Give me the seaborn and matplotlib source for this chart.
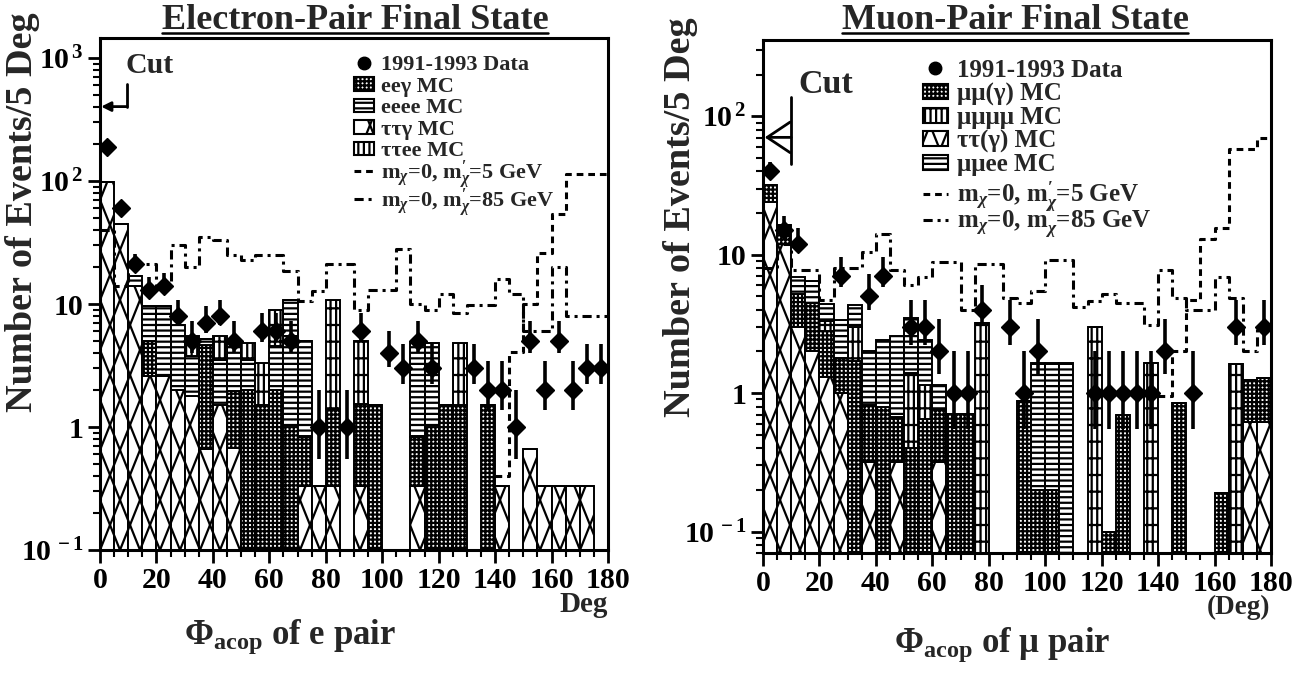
import numpy as np
import pandas as pd
import matplotlib
matplotlib.use("Agg")
import matplotlib.pyplot as plt
import matplotlib.hatch as mhatch
from matplotlib.path import Path
from matplotlib.patches import Patch, ArrowStyle
from matplotlib.lines import Line2D
from matplotlib.colors import to_hex
from matplotlib.ticker import LogLocator, NullFormatter, FixedLocator
import seaborn as sns

nan = np.nan

# ---------------- binning ----------------
bin_edges = np.arange(0, 185, 5)
bin_centers = bin_edges[:-1] + 2.5

# ---------------- electron-pair channel ----------------
e_mc_names = ["ττγ MC", "eeγ MC", "eeee MC", "ττee MC"]          # stacked bottom -> top
e_tautau_gamma = [98, 45, 14, 2.6, 2.6, 2.0, 1.8, 0.66, 1.5, 0.68, 0, 0, 0, 0, 0.33, 0.33, 0.33, 0,
                  0.33, 0, 0, 0, 0.33, 0, 0, 0, 0, 0, 0.33, 0, 0.66, 0.33, 0.33, 0.33, 0.33, 0]
e_ee_gamma = [0, 0, 0, 2.4, 0, 0, 0, 4.0, 0, 1.3, 2.0, 1.5, 2.0, 1.0, 0.5, 0, 1.07, 0,
              1.2, 1.5, 0, 0, 0.5, 1.0, 1.5, 1.5, 0, 1.5, 0, 0, 0, 0, 0, 0, 0, 0]
e_eeee = [0, 0, 3.0, 4.6, 7.0, 4.7, 2.0, 0.5, 2.0, 2.5, 1.5, 0, 2.6, 9.8, 4.2, 0, 0, 0,
          0, 0, 0, 0, 4.0, 3.8, 0, 0, 0, 0, 0, 0, 0, 0, 0, 0, 0, 0]
e_tautau_ee = [0, 0, 0, 0, 0, 0, 1.7, 0, 2.0, 0.5, 1.3, 1.8, 4.3, 0, 0, 0, 9.4, 0,
               3.5, 0, 0, 0, 0, 0, 0, 3.3, 0, 0, 0, 0, 0, 0, 0, 0, 0, 0]
e_data = [190, 61, 21, 13, 14, 8, 5, 7, 8, 5, nan, 6, 6, 5, nan, 1, nan, 1,
          6, nan, 4, 3, 5, 3, nan, nan, 3, 2, 2, 1, 5, 2, 5, 2, 3, 3]
e_sig_5 = [nan] * 28 + [0.4, 4.1, 10, 26, 54, 115, 115, 115]
e_sig_85 = [40, 14, 21, 21, 14, 30, 20, 35, 33, 25, 23, 25, 25, 18.5, 10.6, 12.7, 21, 21,
            9, 13, 13, 28, 10, 9, 12, 8.4, 9.8, 9.8, 16, 12, 6, 6, 20, 8, 8, 8]

# ---------------- muon-pair channel ----------------
m_mc_names = ["ττ(γ) MC", "μμ(γ) MC", "μμμμ MC", "μμee MC"]        # stacked bottom -> top
m_tautau = [24, 12, 3.0, 2.0, 1.3, 1.0, 0, 0.32, 0, 0.32, 0, 0, 0.32, 0, 0, 0, 0, 0,
            0, 0, 0, 0, 0, 0, 0, 0, 0, 0, 0, 0, 0, 0, 0, 0, 0.62, 0.62]
m_mumu_gamma = [8, 4.5, 2.2, 2.5, 1.5, 0.8, 1.7, 0.5, 0.8, 0.35, 0.4, 0.65, 0.45, 0.71, 0.71, 0, 0, 0,
                0.87, 0.2, 0.2, 0, 0, 0, 0.10, 0.69, 0, 0, 0, 0.85, 0, 0, 0.19, 0, 0.63, 0.66]
m_4mu = [0, 0, 0, 0, 0.5, 0, 1.3, 0, 0, 0, 1.0, 0.5, 0, 0, 0, 3.2, 0, 0,
         0, 0, 0, 0, 0, 3.0, 0, 0, 0, 1.65, 0, 0, 0, 0, 0, 1.63, 0, 0]
m_mumuee = [0, 0, 1.7, 2.0, 1.1, 1.6, 1.3, 1.2, 1.6, 1.9, 2.1, 1.25, 0.38, 0, 0, 0, 0, 0,
            0, 1.45, 1.45, 1.65, 0, 0, 0, 0, 0, 0, 0, 0, 0, 0, 0, 0, 0, 0]
m_data = [40, 15, 12, nan, nan, 7, nan, 5, 7, nan, 3, 3, 2, 1, 1, 4, nan, 3,
          1, 2, nan, nan, nan, 1, 1, 1, 1, 1, 2, nan, 1, nan, nan, 3, nan, 3]
m_sig_5 = [nan] * 28 + [0.95, 2.0, 4.7, 13, 15.5, 58, 58, 69]
m_sig_85 = [8, 12, 7.8, 7.8, 4.7, 8, 8, 10.5, 14, 7.8, 6, 6.9, 8.9, 8.9, 4.0, 8.6, 8.6, 4.9,
            4.5, 5.5, 9.2, 9.2, 4.2, 4.6, 5.2, 4.5, 4.5, 3.1, 7.8, 4.9, 4.0, 4.0, 6.9, 4.9, 2.0, 3.1]

sig_labels = [r"m$_{\chi}$=0, m$_{\chi}^{\prime}$=5 GeV", r"m$_{\chi}$=0, m$_{\chi}^{\prime}$=85 GeV"]


# ---------------- a tall diamond lattice for the 'X' hatch letter ----------------
class TallDiamondHatch(mhatch.HatchPatternBase):
    def __init__(self, hatch, density):
        self.num_lines = hatch.count("X") * 5
        self.num_vertices = 4 * (self.num_lines + 3) if self.num_lines else 0

    def set_vertices_and_codes(self, vertices, codes):
        n = self.num_lines
        shift = 2.0 / n
        up = np.arange(-2, n + 1) / n
        down = np.arange(0, n + 3) / n
        k = 2 * len(up)
        vertices[0:k:2, 0] = up
        vertices[0:k:2, 1] = 0.0
        vertices[1:k:2, 0] = up + shift
        vertices[1:k:2, 1] = 1.0
        vertices[k::2, 0] = down
        vertices[k::2, 1] = 0.0
        vertices[k + 1::2, 0] = down - shift
        vertices[k + 1::2, 1] = 1.0
        codes[0::2] = Path.MOVETO
        codes[1::2] = Path.LINETO


class _NorthEast(mhatch.NorthEastHatch):
    def __init__(self, hatch, density):
        super().__init__(hatch.replace("X", ""), density)


class _SouthEast(mhatch.SouthEastHatch):
    def __init__(self, hatch, density):
        super().__init__(hatch.replace("X", ""), density)


mhatch._hatch_types = [
    _NorthEast if t is mhatch.NorthEastHatch else _SouthEast if t is mhatch.SouthEastHatch else t
    for t in mhatch._hatch_types
] + [TallDiamondHatch]

# ---------------- style ----------------
sns.set_style("ticks")
plt.rcParams.update({
    "font.family": ["Liberation Serif", "DejaVu Serif"],
    "font.weight": "bold",
    "axes.labelweight": "bold",
    "mathtext.fontset": "custom",
    "mathtext.rm": "Liberation Serif:bold",
    "mathtext.it": "Liberation Serif:italic:bold",
    "mathtext.bf": "Liberation Serif:bold",
    "hatch.linewidth": 1.6,
    "axes.linewidth": 2.2,
    "axes.edgecolor": "black",
    "xtick.color": "black",
    "ytick.color": "black",
})

HATCHES = ["X", "++++", "---", "|||-"]        # ττ-type, radiative, 4-lepton, mixed
M_HATCHES = ["X", "++++", "|||-", "---"]
KEY_COLORS = ["#ff0000", "#00aa00", "#0000ff", "#aa00aa"]
DASH_LIGHT = (0, (2.2, 1.6))
DASH_HEAVY = (0, (3.0, 1.6, 1.0, 1.6))


def draw_panel(ax, names, values, hatches, counts, light, heavy, ylim, yticks, yticklabels):
    frame = pd.DataFrame({
        "phi": np.tile(bin_centers, len(names)),
        "events": np.concatenate([np.asarray(v, float) for v in values]),
        "sample": np.repeat(names, len(bin_centers)),
    })
    pal = dict(zip(names, KEY_COLORS))
    sns.histplot(data=frame, x="phi", weights="events", hue="sample",
                 hue_order=names[::-1], palette=pal, multiple="stack",
                 bins=[float(b) for b in bin_edges], element="bars", alpha=1, legend=False,
                 edgecolor="black", linewidth=1.4, ax=ax)
    key_to_hatch = {to_hex(c): h for c, h in zip(KEY_COLORS, hatches)}
    for p in ax.patches:
        h = key_to_hatch.get(to_hex(p.get_facecolor(), keep_alpha=False))
        if h is not None:
            p.set_facecolor("white")
            p.set_edgecolor("black")
            p.set_hatch(h)
            p.set_alpha(1)
            p.set_linewidth(1.4)

    # data with statistical error bars
    c = np.asarray(counts, float)
    ok = ~np.isnan(c)
    n = c[ok]
    ax.errorbar(bin_centers[ok], n, yerr=np.vstack([0.45 * np.sqrt(n), np.sqrt(n)]),
                fmt="D", color="black", ms=9, elinewidth=2.6, capsize=0, zorder=6)

    # signal expectations
    for vals, ls in ((light, DASH_LIGHT), (heavy, DASH_HEAVY)):
        v = np.asarray(vals, float)
        ax.plot(bin_edges, np.append(v, v[-1]), drawstyle="steps-post", ls=ls,
                color="black", lw=2.2, zorder=5)

    ax.set_yscale("log")
    ax.set_xlim(0, 180)
    ax.set_ylim(*ylim)
    ax.set_xticks(np.arange(0, 181, 20))
    ax.set_xticks(np.arange(0, 181, 5), minor=True)
    ax.yaxis.set_major_locator(FixedLocator(yticks))
    ax.set_yticklabels(yticklabels)
    ax.yaxis.set_minor_locator(LogLocator(subs=np.arange(2, 10)))
    ax.yaxis.set_minor_formatter(NullFormatter())
    ax.tick_params(which="major", direction="out", length=9, width=2, labelsize=21.5, pad=3)
    ax.tick_params(which="minor", direction="out", length=5, width=1.5)
    for lab in ax.get_xticklabels() + ax.get_yticklabels():
        lab.set_fontweight("bold")
    for s in ax.spines.values():
        s.set_visible(True)
        s.set_linewidth(2.2)
    ax.set_xlabel("")
    ax.set_ylabel("Number of Events/5 Deg", fontsize=27.5, fontweight="bold")


def sample_handles(hatches_in_order):
    h = [Line2D([], [], marker="o", ls="none", color="black", ms=9)]
    h += [Patch(facecolor="white", edgecolor="black", hatch=hh, lw=1.5) for hh in hatches_in_order]
    return h


def signal_handles():
    return [Line2D([], [], ls=DASH_LIGHT, color="black", lw=2.2),
            Line2D([], [], ls=DASH_HEAVY, color="black", lw=2.2)]


def two_part_legend(ax, hatches_in_order, labels, x0, y_top, y_sig, size, hlen, pad, space, sig_space):
    common = dict(loc="upper left", frameon=False, borderpad=0, handlelength=hlen,
                  handleheight=0.55, handletextpad=pad, prop={"size": size, "weight": "bold"})
    leg1 = ax.legend(sample_handles(hatches_in_order), labels, bbox_to_anchor=(x0, y_top),
                     labelspacing=space, **common)
    ax.add_artist(leg1)
    ax.legend(signal_handles(), sig_labels, bbox_to_anchor=(x0, y_sig),
              labelspacing=sig_space, **common)


fig = plt.figure(figsize=(13.03, 6.75), dpi=100)
ax_e = fig.add_axes([100 / 1303, 1 - 550 / 675, 508 / 1303, 512 / 675])
ax_m = fig.add_axes([763 / 1303, 1 - 553 / 675, 508 / 1303, 513 / 675])

draw_panel(ax_e, e_mc_names, [e_tautau_gamma, e_ee_gamma, e_eeee, e_tautau_ee], HATCHES,
           e_data, e_sig_5, e_sig_85, (0.1, 1460), [0.1, 1, 10, 100, 1000],
           [r"10$^{\,-1}$", "1", "10", r"10$^{\,2}$", r"10$^{\,3}$"])
draw_panel(ax_m, m_mc_names, [m_tautau, m_mumu_gamma, m_4mu, m_mumuee], M_HATCHES,
           m_data, m_sig_5, m_sig_85, (0.07, 355), [0.1, 1, 10, 100],
           [r"10$^{\,-1}$", "1", "10", r"10$^{\,2}$"])

ax_e.yaxis.set_label_coords(-0.118, 0.66)
ax_m.yaxis.set_label_coords(-0.128, 0.655)

# legends
two_part_legend(ax_e, [HATCHES[1], HATCHES[2], HATCHES[0], HATCHES[3]],
                ["1991-1993 Data", "eeγ MC", "eeee MC", "ττγ MC", "ττee MC"],
                0.478, 0.988, 0.787, 16, 0.9, 0.3, 0.07, -0.22)
two_part_legend(ax_m, [M_HATCHES[1], M_HATCHES[2], M_HATCHES[0], M_HATCHES[3]],
                ["1991-1993 Data", "μμ(γ) MC", "μμμμ MC", "ττ(γ) MC", "μμee MC"],
                0.29, 0.988, 0.7526, 18, 1.0, 0.35, 0.02, -0.36)

# acoplanarity cut markers
ax_e.plot([9.6, 9.6], [612, 404], color="black", lw=2, zorder=7)
ax_e.annotate("", xy=(0.4, 404), xytext=(9.6, 404),
              arrowprops=dict(arrowstyle="-|>", color="black", lw=2, mutation_scale=14,
                              shrinkA=0, shrinkB=0), zorder=7)
ax_e.text(8.9, 870, "Cut", fontsize=21.5, fontweight="bold", ha="left", va="center")

ax_m.plot([10, 10], [138, 45.4], color="black", lw=2, zorder=7)
ax_m.annotate("", xy=(0.6, 70.3), xytext=(10, 70.3),
              arrowprops=dict(arrowstyle=ArrowStyle("->", head_length=0.75, head_width=0.5),
                              color="black", lw=2, mutation_scale=22, shrinkA=0, shrinkB=0),
              zorder=7)
ax_m.text(12.5, 168, "Cut", fontsize=24.5, fontweight="bold", ha="left", va="center")

# axis titles and units
fig.text(290 / 1303, 1 - 644 / 675, r"$\Phi_{\mathrm{acop}}$ of e pair", ha="center",
         va="baseline", fontsize=25, fontweight="bold")
fig.text(1002 / 1303, 1 - 652 / 675, r"$\Phi_{\mathrm{acop}}$ of μ pair", ha="center",
         va="baseline", fontsize=25, fontweight="bold")
fig.text(584 / 1303, 1 - 612 / 675, "Deg", ha="center", va="baseline", fontsize=21,
         fontweight="bold")
fig.text(1238 / 1303, 1 - 614 / 675, "(Deg)", ha="center", va="baseline", fontsize=19.5,
         fontweight="bold")

# underlined panel titles
titles = [fig.text(355 / 1303, 1 - 29 / 675, "Electron-Pair Final State", ha="center",
                   va="baseline", fontsize=26, fontweight="bold"),
          fig.text(1015 / 1303, 1 - 29 / 675, "Muon-Pair Final State", ha="center",
                   va="baseline", fontsize=26, fontweight="bold")]
fig.canvas.draw()
for t in titles:
    bb = t.get_window_extent()
    yl = 1 - 33 / 675
    fig.add_artist(Line2D([bb.x0 / 1303, bb.x1 / 1303], [yl, yl],
                          transform=fig.transFigure, color="black", lw=1.8))

fig.savefig("out.png", dpi=100)
